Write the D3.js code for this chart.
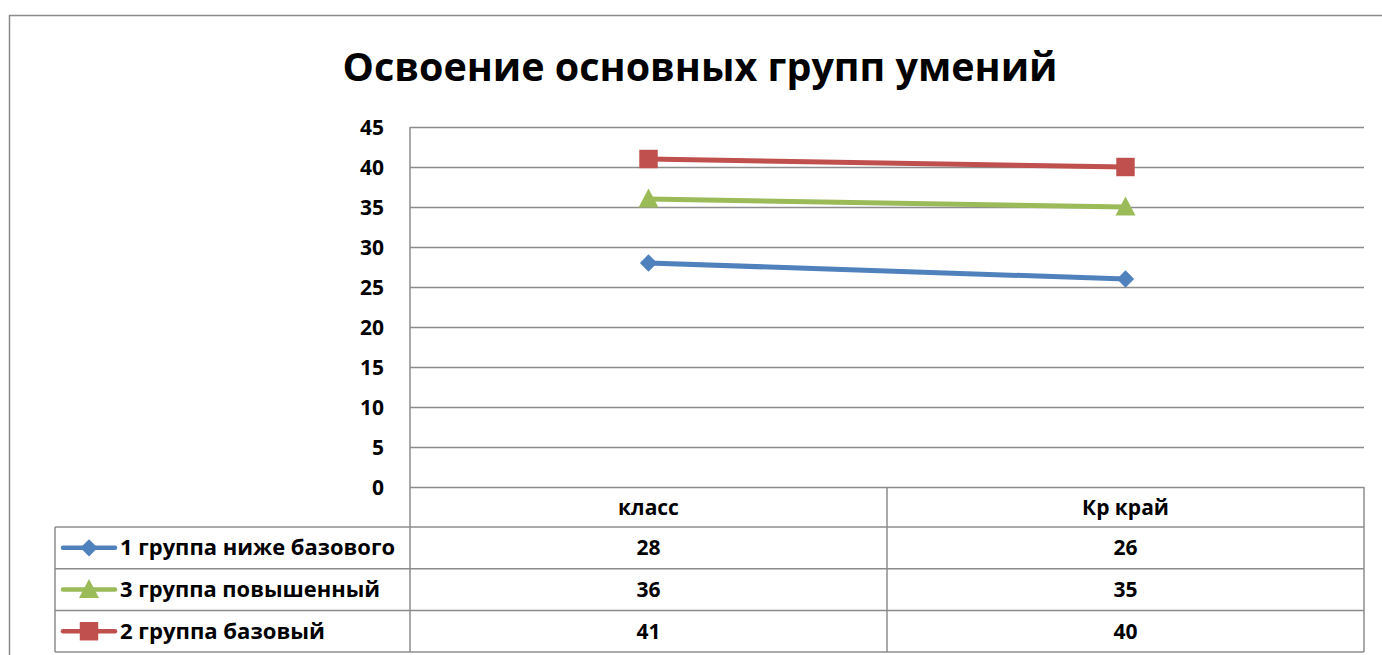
<!DOCTYPE html>
<html>
<head>
<meta charset="utf-8">
<script src="https://cdn.jsdelivr.net/npm/d3@7"></script>
<style>
  body { margin: 0; background: #fff; }
  text { font-family: "Open Sans", "Liberation Sans", sans-serif; font-weight: bold; fill: #000; }
</style>
</head>
<body>
<div id="chart"></div>
<script>
// data
var title = "Освоение основных групп умений";
var categories = ["класс", "Кр край"];
var seriesNames = ["1 группа ниже базового", "3 группа повышенный", "2 группа базовый"];
var seriesValues = [
    [28, 26],
    [36, 35],
    [41, 40]
];
var seriesColors = ["#4F81BD", "#9BBB59", "#C0504D"];
var seriesMarkers = ["diamond", "triangle", "square"];
var yTicks = [0, 5, 10, 15, 20, 25, 30, 35, 40, 45];

var svgWidth = 1382;
var svgHeight = 655;

var plot = { left: 410, right: 1364, top: 127, bottom: 487 };
var rowH = 41.7;
var headH = 40;
var tableLeft = 55;
var gridColor = "#8c8c8c";
var fontSize = "21px";

var svg = d3.select("#chart")
    .append("svg")
    .attr("width", svgWidth)
    .attr("height", svgHeight);

// outer chart frame (runs off the right/bottom edges)
svg.append("rect")
    .attr("x", 9.5)
    .attr("y", 15.5)
    .attr("width", svgWidth + 20)
    .attr("height", svgHeight + 20)
    .attr("fill", "none")
    .attr("stroke", "#8c8c8c")
    .attr("stroke-width", 1.5);

// title
var titleText = svg.append("text")
    .attr("x", 700)
    .attr("y", 81)
    .attr("text-anchor", "middle")
    .attr("font-size", "40px")
    .text(title);
if (titleText.node().getComputedTextLength() > 0) {
    titleText.attr("textLength", 715).attr("lengthAdjust", "spacingAndGlyphs");
}

// scales
var xScale = d3.scaleBand()
    .domain(categories)
    .range([plot.left, plot.right]);

var yScale = d3.scaleLinear()
    .domain([0, 45])
    .range([plot.bottom, plot.top]);

// y axis with gridlines
var yAxis = d3.axisLeft(yScale)
    .tickValues(yTicks)
    .tickSize(-(plot.right - plot.left))
    .tickPadding(26);

var yG = svg.append("g")
    .attr("transform", `translate(${plot.left}, 0)`)
    .call(yAxis);
yG.select(".domain").remove();
yG.selectAll(".tick line")
    .attr("stroke", gridColor)
    .attr("stroke-width", 1.5);
yG.selectAll(".tick text")
    .attr("font-size", fontSize)
    .attr("font-family", "Open Sans, sans-serif")
    .attr("font-weight", "bold")
    .attr("fill", "#000")
    .attr("dy", "0.36em");

// vertical axis line, goes through into the data table
var tableBottom = plot.bottom + headH + rowH * seriesNames.length;
svg.append("line")
    .attr("x1", plot.left).attr("x2", plot.left)
    .attr("y1", plot.top).attr("y2", tableBottom)
    .attr("stroke", gridColor).attr("stroke-width", 1.5);

// data table grid
var tableG = svg.append("g");
// category dividers
categories.forEach(function(c, i) {
    var xr = xScale(c) + xScale.bandwidth();
    tableG.append("line")
        .attr("x1", xr).attr("x2", xr)
        .attr("y1", plot.bottom).attr("y2", tableBottom)
        .attr("stroke", gridColor).attr("stroke-width", 1.5);
});
// horizontal row lines
seriesNames.forEach(function(s, i) {
    var yTop = plot.bottom + headH + rowH * i;
    tableG.append("line")
        .attr("x1", tableLeft).attr("x2", plot.right)
        .attr("y1", yTop).attr("y2", yTop)
        .attr("stroke", gridColor).attr("stroke-width", 1.5);
});
tableG.append("line")
    .attr("x1", tableLeft).attr("x2", plot.right)
    .attr("y1", tableBottom).attr("y2", tableBottom)
    .attr("stroke", gridColor).attr("stroke-width", 1.5);
tableG.append("line")
    .attr("x1", tableLeft).attr("x2", tableLeft)
    .attr("y1", plot.bottom + headH).attr("y2", tableBottom)
    .attr("stroke", gridColor).attr("stroke-width", 1.5);

// header texts
tableG.selectAll(".catText")
    .data(categories)
    .enter()
    .append("text")
    .attr("x", d => xScale(d) + xScale.bandwidth() / 2)
    .attr("y", plot.bottom + headH / 2)
    .attr("dy", "0.36em")
    .attr("text-anchor", "middle")
    .attr("font-size", fontSize)
    .text(d => d);

// marker shapes
function markerPath(type) {
    if (type === "diamond") return d3.symbol(d3.symbolDiamond2, 190)();
    if (type === "square") return d3.symbol(d3.symbolSquare, 340)();
    return "M0,-10.5L10,8.5L-10,8.5Z";
}

// rows: legend key + values
var labelWidths = [275, 260, 205];
seriesNames.forEach(function(name, i) {
    var yMid = plot.bottom + headH + rowH * i + rowH / 2;
    tableG.append("line")
        .attr("x1", 63).attr("x2", 115)
        .attr("y1", yMid).attr("y2", yMid)
        .attr("stroke", seriesColors[i])
        .attr("stroke-width", 4.5)
        .attr("stroke-linecap", "round");
    tableG.append("path")
        .attr("d", markerPath(seriesMarkers[i]))
        .attr("transform", `translate(89, ${yMid})`)
        .attr("fill", seriesColors[i]);
    tableG.append("text")
        .attr("x", 120)
        .attr("y", yMid)
        .attr("dy", "0.36em")
        .attr("font-size", fontSize)
        .attr("textLength", labelWidths[i])
        .attr("lengthAdjust", "spacingAndGlyphs")
        .text(name);
    seriesValues[i].forEach(function(v, j) {
        tableG.append("text")
            .attr("x", xScale(categories[j]) + xScale.bandwidth() / 2)
            .attr("y", yMid)
            .attr("dy", "0.36em")
            .attr("text-anchor", "middle")
            .attr("font-size", fontSize)
            .text(v);
    });
});

// lines
var line = d3.line()
    .x((d, j) => xScale(categories[j]) + xScale.bandwidth() / 2)
    .y(d => yScale(d));

seriesValues.forEach(function(vals, i) {
    svg.append("path")
        .datum(vals)
        .attr("d", line)
        .attr("fill", "none")
        .attr("stroke", seriesColors[i])
        .attr("stroke-width", 5)
        .attr("stroke-linecap", "round");
    svg.selectAll(".m" + i)
        .data(vals)
        .enter()
        .append("path")
        .attr("class", "m" + i)
        .attr("d", markerPath(seriesMarkers[i]))
        .attr("transform", (d, j) => `translate(${xScale(categories[j]) + xScale.bandwidth() / 2}, ${yScale(d)})`)
        .attr("fill", seriesColors[i]);
});
</script>
</body>
</html>
